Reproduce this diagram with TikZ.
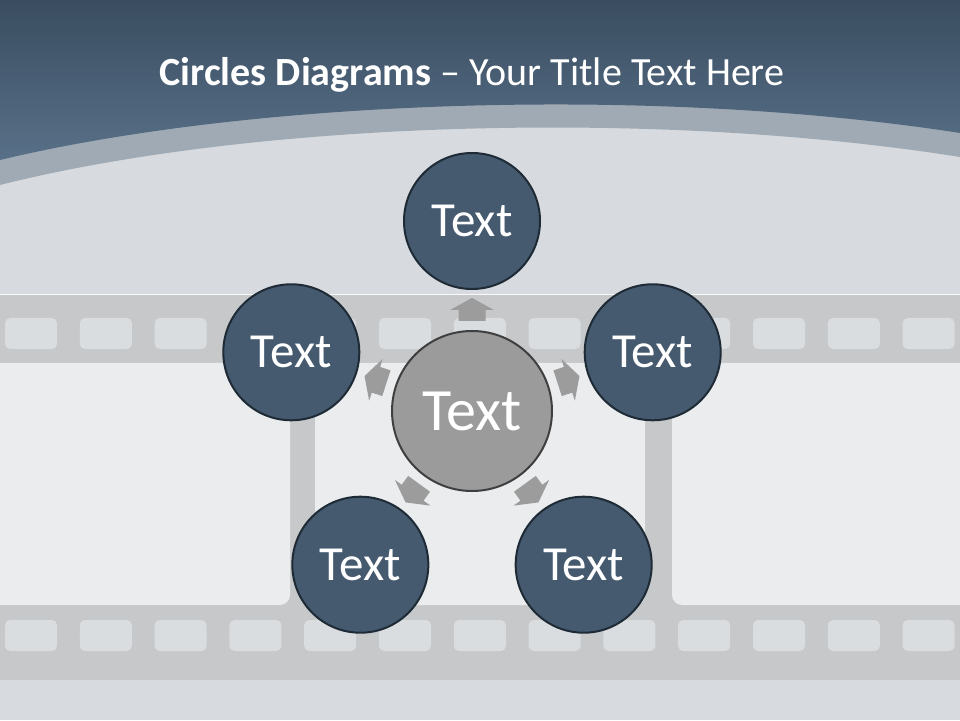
\documentclass[tikz,border=0pt]{standalone}
\usepackage{fontspec}
\setmainfont{Carlito}
\usetikzlibrary{calc}
\definecolor{topdark}{HTML}{3A4D60}
\definecolor{topmid}{HTML}{587088}
\definecolor{arcband}{HTML}{A0AAB4}
\definecolor{wall}{HTML}{D7DBDF}
\definecolor{filmgrey}{HTML}{C6C8CA}
\definecolor{holegrey}{HTML}{D9DDE0}
\definecolor{framegrey}{HTML}{EAECED}
\definecolor{circblue}{HTML}{455A6E}
\definecolor{circedge}{HTML}{1E2B36}
\definecolor{centgrey}{HTML}{9B9B9B}
\definecolor{centedge}{HTML}{3F3F3F}
\definecolor{arrgrey}{HTML}{9C9C9C}
\begin{document}
\begin{tikzpicture}[x=1pt,y=1pt,line join=miter,font=\footnotesize]
		\tikzset{outer/.style={circle,draw=circedge,line width=2pt,fill=circblue,minimum size=136pt,inner sep=0pt,
				text=white,font=\fontsize{49}{49}\selectfont},
			inner/.style={outer,draw=centedge,fill=centgrey,minimum size=160pt,font=\fontsize{60}{60}\selectfont}}
		\def\hole(#1,#2){(5+74.8*#1,#2) rectangle ++(52,31)} % lỗ phim
		\useasboundingbox (0,0) rectangle (960,720);
		\fill[wall] (0,0) rectangle (960,720);
		%--------- Nền trên
		\fill[arcband] (0,720)--(0,535) .. controls (250,598) and (650,612) .. (960,563)--(960,720)--cycle;
		\shade[top color=topdark,bottom color=topmid] (0,720)--(0,560) .. controls (250,620) and (650,635) .. (960,587)--(960,720)--cycle;
		\node[text=white,font=\fontsize{40}{40}\selectfont,anchor=base] (title) at (472,634)
			{\textbf{Circles Diagrams} – Your Title Text Here};
		%--------- Cuộn phim
		\fill[filmgrey] (0,40) rectangle (960,425);
		\draw[white!80!wall,line width=1pt] (0,425.5)--(960,425.5);
		\foreach \i in {0,...,12} {
			\fill[holegrey,rounded corners=5pt] \hole(\i,371);
			\fill[holegrey,rounded corners=5pt] \hole(\i,69);
		}
		\fill[framegrey,rounded corners=10pt] (-20,115) rectangle (290,357);
		\fill[framegrey,rounded corners=10pt] (315,115) rectangle (645,357);
		\fill[framegrey,rounded corners=10pt] (672,115) rectangle (980,357);
		%--------- Vòng tròn
		\node[inner] (c) at (472,309) {Text};
		\foreach \a [count=\i] in {90,162,234,306,18} {
			\node[outer] (t\i) at ($(c)+(\a:190)$) {Text};
			\fill[arrgrey,shift={(c)},rotate=\a-90] (-13.5,90)--(13.5,90)--(13.5,101)--(22,101)--(0,113)--(-22,101)--(-13.5,101)--cycle;
		}
	\end{tikzpicture}
\end{document}
